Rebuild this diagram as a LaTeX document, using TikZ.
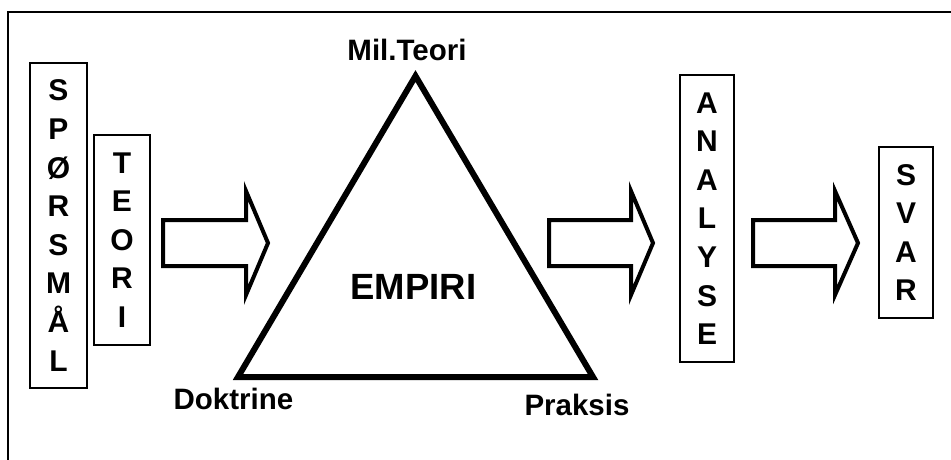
\documentclass[tikz,border=0pt]{standalone}
\usepackage{fontspec}
\setmainfont{Liberation Sans}
\begin{document}
\begin{tikzpicture}[x=1pt,y=-1pt,
  lbox/.style={draw=black,line width=1.3pt,inner sep=0pt,align=center,
    font=\bfseries\fontsize{30}{38.6}\selectfont},
  lbl/.style={inner sep=0pt,anchor=base,font=\bfseries\fontsize{29.5}{34}\selectfont},
  blockarrow/.style={draw=black,line width=4pt,line join=miter,fill=white},
  tri/.style={draw=black,line width=6pt,line join=miter}]
\useasboundingbox (0,0) rectangle (951,460);
% frame
\draw[line width=1.5pt] (8,470) -- (8,12) -- (960,12);
% letter boxes
\node[lbox,minimum width=57,minimum height=325] (sp) at (58.5,225.5) {S\\P\\Ø\\R\\S\\M\\Å\\L};
\node[lbox,minimum width=56,minimum height=210] (te) at (122,240) {T\\E\\O\\R\\I};
\node[lbox,minimum width=54,minimum height=287] (an) at (707,218.5) {A\\N\\A\\L\\Y\\S\\E};
\node[lbox,minimum width=54,minimum height=171] (sv) at (906,232.5) {S\\V\\A\\R};
% block arrows
\draw[blockarrow] (163,220) -- (246,220) -- (246,191) -- (268,243) -- (246,295) -- (246,266) -- (163,266) -- cycle;
\draw[blockarrow] (549,220) -- (631,220) -- (631,191) -- (653,243) -- (631,295) -- (631,266) -- (549,266) -- cycle;
\draw[blockarrow] (753,220) -- (835,220) -- (835,191) -- (858,243) -- (835,295) -- (835,266) -- (753,266) -- cycle;
% triangle
\coordinate (apex) at (415.5,76);
\coordinate (bl) at (238,377);
\coordinate (br) at (593,377);
\draw[tri] (apex) -- (bl) -- (br) -- cycle;
% labels
\node[lbl] (mil) at (407,61) {Mil.Teori};
\node[lbl,font=\bfseries\fontsize{36.5}{40}\selectfont] (emp) at (413.5,299) {EMPIRI};
\node[lbl] (dok) at (233.5,409) {Doktrine};
\node[lbl] (pra) at (577,415) {Praksis};
\end{tikzpicture}
\end{document}
